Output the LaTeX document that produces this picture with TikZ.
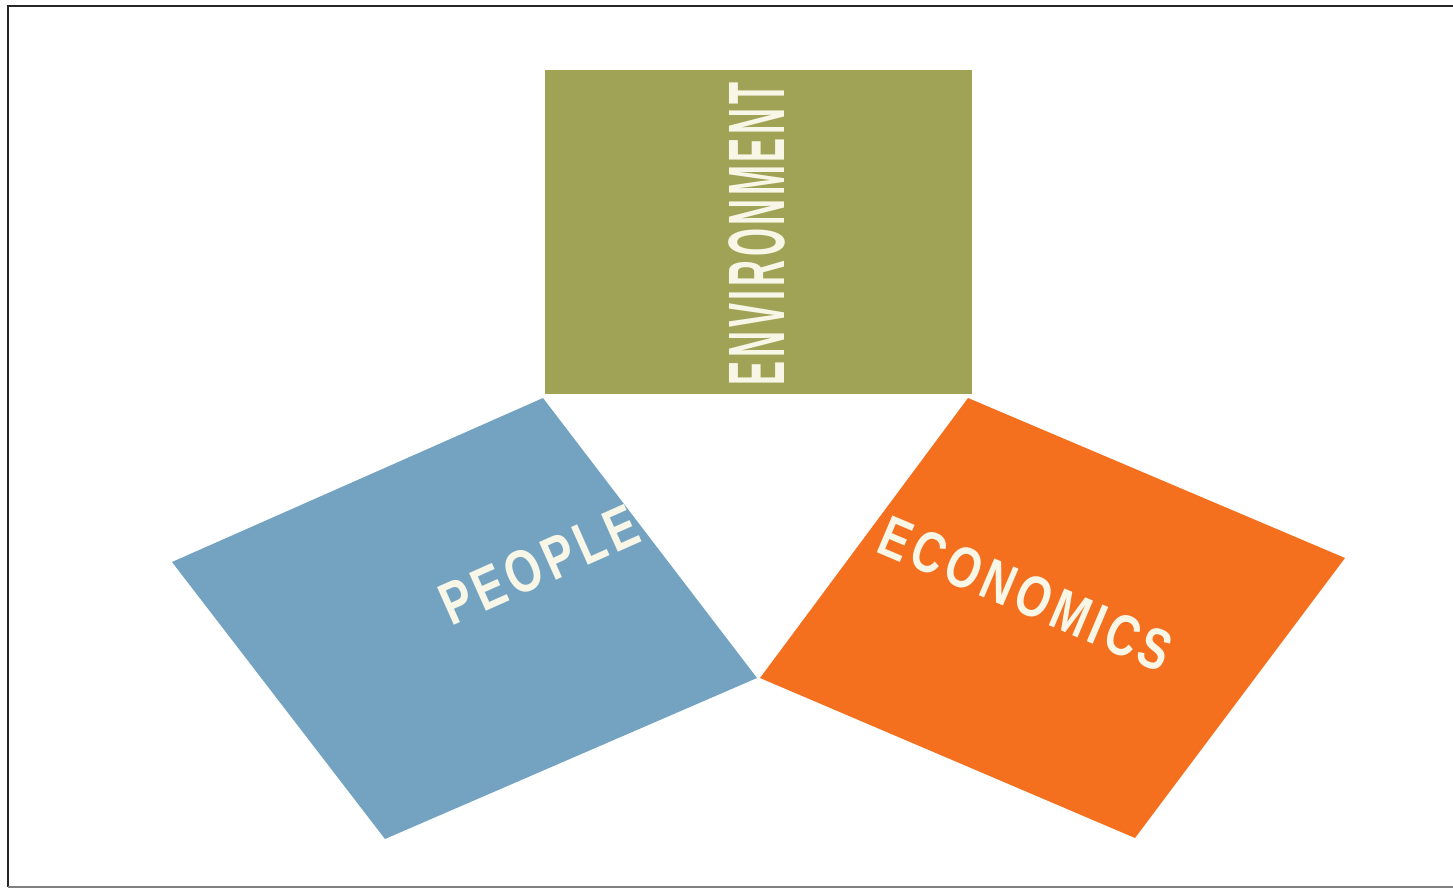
\documentclass[tikz,border=0pt]{standalone}
\usepackage{fontspec}
\newfontfamily\tagfont{Liberation Sans}[LetterSpace=10]
\definecolor{envgreen}{HTML}{A0A255}
\definecolor{peopleblue}{HTML}{74A3C1}
\definecolor{econorange}{HTML}{F4701F}
\definecolor{tagwhite}{HTML}{F8F6E6}

\begin{document}
\begin{tikzpicture}[x=0.5pt, y=-0.5pt,
                    tag/.style={text=tagwhite, inner sep=0pt,
                      font=\tagfont\bfseries\fontsize{#1}{#1}\selectfont}]
  \useasboundingbox (0,0) rectangle (1453,888);

  % Frame round the picture
  \draw[line width=1.2pt, black!85] (1453,6) -- (8,6) -- (8,887);
  \draw[line width=0.8pt, black!50] (8,887) -- (1453,887);

  % The green block on top
  \fill[envgreen] (545,70) rectangle (972,394);
  \node[tag=40, rotate=90, xscale=0.45] (environment) at (757,234) {ENVIRONMENT};

  % The two tilted blocks meet in one corner
  \fill[peopleblue] (172,562) -- (543,398) -- (757,678) -- (385,839) -- cycle;
  \fill[econorange] (968,398) -- (1345,558) -- (1135,838) -- (760,678) -- cycle;

  \node[tag=30, rotate=24, xscale=0.77] (people) at (539,565) {PEOPLE};
  \node[tag=29, rotate=-23, xscale=0.77] (economics) at (1026,594) {ECONOMICS};
\end{tikzpicture}
\end{document}
